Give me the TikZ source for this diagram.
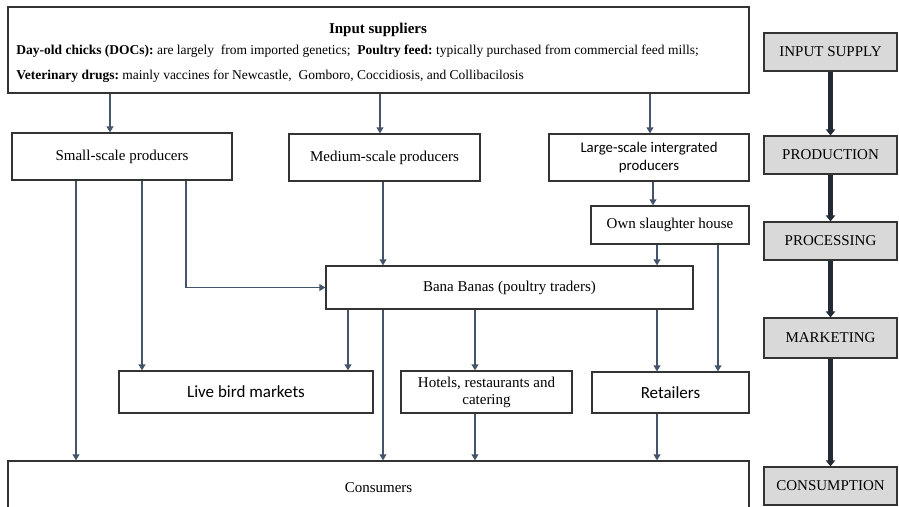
\documentclass[tikz,border=0pt]{standalone}
\usepackage{fontspec}
\setmainfont{Liberation Serif}
\newfontfamily\calfont{Carlito}
\usetikzlibrary{arrows.meta,positioning}
\definecolor{arrowcol}{HTML}{44546A}
\definecolor{stagecol}{HTML}{222A35}
\definecolor{stagefill}{HTML}{D9D9D9}

\begin{document}
\fontsize{7.5}{9}\selectfont\frenchspacing
\begin{tikzpicture}[x=0.5pt,y=-0.5pt,
                    box/.style={draw=black!80,line width=0.6pt,inner sep=0pt,align=center},
                    cal/.style={font=\calfont\fontsize{8.5}{10}\selectfont},
                    supline/.style={anchor=west,inner sep=0pt,font=\fontsize{6.75}{8}\selectfont},
                    stage/.style={box,fill=stagefill,minimum width=66.5pt,minimum height=19pt},
                    flow/.style={draw=arrowcol,line width=0.7pt,-{Triangle[length=3pt,width=3.4pt]}},
                    stageflow/.style={draw=stagecol,line width=2.4pt,-{Triangle[length=3pt,width=4.6pt]}}]
  \path[use as bounding box] (0,0) rectangle (899,507);
  \clip (0,0) rectangle (899,507);

  \node[box,minimum width=370.5pt,minimum height=43pt] (sup) at (378.5,50) {};
  \node[font=\bfseries] (suptitle) at (378,29.5) {Input suppliers};
  \node[supline] (docs) at (16,51) {\textbf{Day-old chicks (DOCs):} are largely\ \ from imported genetics;\ \ \textbf{Poultry feed:} typically purchased from commercial feed mills;};
  \node[supline] (vet) at (16,76) {\textbf{Veterinary drugs:} mainly vaccines for Newcastle,\ \ Gomboro, Coccidiosis, and Collibacilosis};

  \node[box,minimum width=110pt,minimum height=23.5pt] (small) at (122,156.5) {Small-scale producers};
  \node[box,minimum width=95.5pt,minimum height=23.5pt] (med) at (384.5,157.5) {Medium-scale producers};
  \node[box,font=\calfont\fontsize{7.4}{9}\selectfont,minimum width=100pt,minimum height=23.5pt] (large) at (649,157.5) {Large-scale intergrated\\producers};
  \node[box,minimum width=79pt,minimum height=19pt] (slaughter) at (670,225) {Own slaughter house};
  \node[box,minimum width=183.5pt,minimum height=21.5pt] (bana) at (509.5,287.5) {Bana Banas (poultry traders)};
  \node[box,cal,minimum width=127pt,minimum height=21pt] (live) at (246,392) {Live bird markets};
  \node[box,font=\fontsize{7.5}{8.5}\selectfont,minimum width=85.5pt,minimum height=21pt] (hotels) at (486.5,392) {Hotels, restaurants and\\catering};
  \node[box,cal,minimum width=78.5pt,minimum height=20.5pt] (retail) at (670.5,392.5) {Retailers};
  \node[box,minimum width=370.5pt,minimum height=27pt] (cons) at (378.5,488) {Consumers};

  \node[stage] (s1) at (830.5,52) {INPUT SUPPLY};
  \node[stage] (s2) at (830.5,155) {PRODUCTION};
  \node[stage] (s3) at (830.5,241) {PROCESSING};
  \node[stage,minimum height=20pt] (s4) at (830.5,338) {MARKETING};
  \node[stage] (s5) at (830.5,486) {CONSUMPTION};

  \coordinate (xa) at (110,0);
  \coordinate (xb) at (380,0);
  \coordinate (xc) at (650,0);
  \coordinate (xd) at (76,0);
  \coordinate (xe) at (142,0);
  \coordinate (xf) at (186,0);
  \coordinate (xg) at (383,0);
  \coordinate (xh) at (653,0);
  \coordinate (xi) at (657,0);
  \coordinate (xj) at (718,0);
  \coordinate (xk) at (348,0);
  \coordinate (xl) at (475,0);

  \path[every edge/.style={flow}]
    (sup.south -| xa) edge (small.north -| xa)
    (sup.south -| xb) edge (med.north -| xb)
    (sup.south -| xc) edge (large.north -| xc)
    (small.south -| xd) edge (cons.north -| xd)
    (small.south -| xe) edge (live.north -| xe)
    (med.south -| xg) edge (bana.north -| xg)
    (large.south -| xh) edge (slaughter.north -| xh)
    (slaughter.south -| xi) edge (bana.north -| xi)
    (slaughter.south -| xj) edge (retail.north -| xj)
    (bana.south -| xk) edge (live.north -| xk)
    (bana.south -| xg) edge (cons.north -| xg)
    (bana.south -| xl) edge (hotels.north -| xl)
    (bana.south -| xi) edge (retail.north -| xi)
    (hotels.south -| xl) edge (cons.north -| xl)
    (retail.south -| xi) edge (cons.north -| xi);
  \draw[flow] (small.south -| xf) |- (bana.west);

  \path[every edge/.style={stageflow}]
    (s1) edge (s2)
    (s2) edge (s3)
    (s3) edge (s4)
    (s4) edge (s5);

\end{tikzpicture}
\end{document}
